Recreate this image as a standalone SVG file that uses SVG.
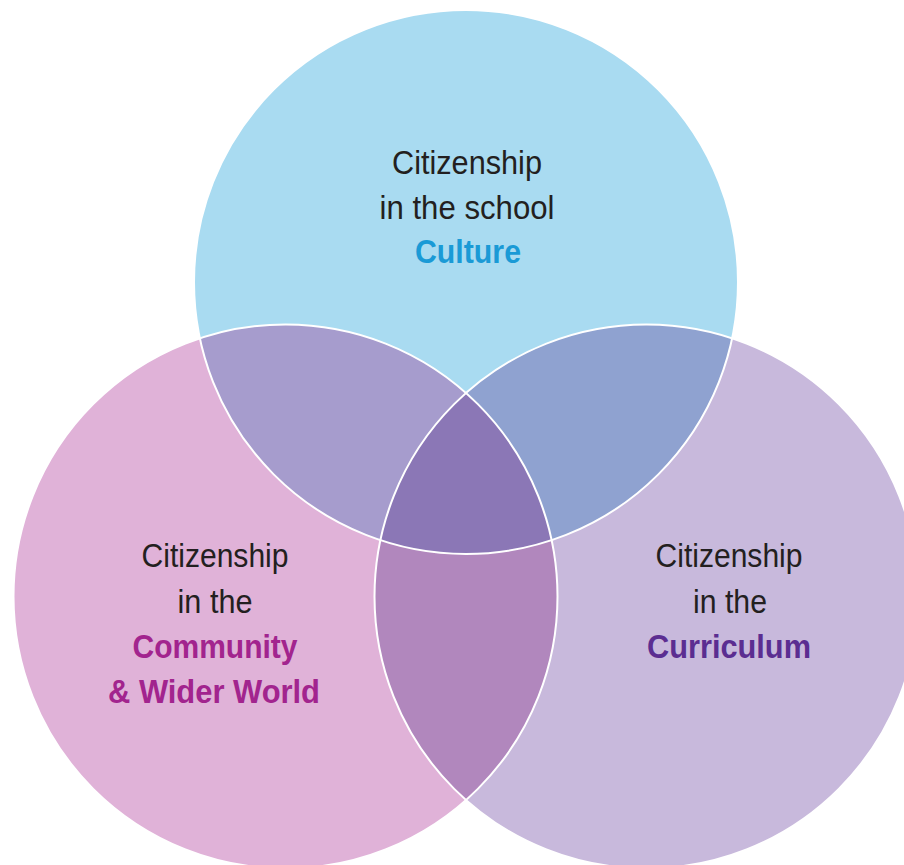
<svg xmlns="http://www.w3.org/2000/svg" width="904" height="865" viewBox="0 0 904 865">
<style>
.t{font-family:"Liberation Sans",Arial,sans-serif;font-size:33px;fill:#231f20;text-anchor:middle}
.b{font-weight:bold}
.ring{fill:none;stroke:#ffffff;stroke-width:2}
</style>
<defs>
<clipPath id="cTop"><circle cx="466" cy="282" r="272"/></clipPath>
<clipPath id="cLeft"><circle cx="285.5" cy="596.5" r="272"/></clipPath>
<clipPath id="cRight"><circle cx="646.5" cy="596.5" r="272"/></clipPath>
</defs>
<rect width="904" height="865" fill="#ffffff"/>
<g id="culture">
<circle cx="466" cy="282" r="272" fill="#a9dbf1"/>
</g>
<g id="community">
<circle cx="285.5" cy="596.5" r="272" fill="#e0b2d8"/>
</g>
<g id="curriculum">
<circle cx="646.5" cy="596.5" r="272" fill="#c8b9dc"/>
</g>
<g id="culture-community">
<circle cx="285.5" cy="596.5" r="272" fill="#a69ccd" clip-path="url(#cTop)"/>
</g>
<g id="culture-curriculum">
<circle cx="646.5" cy="596.5" r="272" fill="#8fa2d0" clip-path="url(#cTop)"/>
</g>
<g id="community-curriculum">
<circle cx="646.5" cy="596.5" r="272" fill="#b187bd" clip-path="url(#cLeft)"/>
</g>
<g id="centre">
<g clip-path="url(#cTop)">
<circle cx="646.5" cy="596.5" r="272" fill="#8b77b6" clip-path="url(#cLeft)"/>
</g>
</g>
<g id="outlines">
<circle class="ring" cx="466" cy="282" r="272"/>
<circle class="ring" cx="285.5" cy="596.5" r="272"/>
<circle class="ring" cx="646.5" cy="596.5" r="272"/>
</g>
<g id="label-culture">
<text class="t" x="467" y="174" textLength="150" lengthAdjust="spacingAndGlyphs">Citizenship</text>
<text class="t" x="467" y="219" textLength="175" lengthAdjust="spacingAndGlyphs">in the school</text>
<text class="t b" x="468" y="263" textLength="106" lengthAdjust="spacingAndGlyphs" style="fill:#1a9ad6">Culture</text>
</g>
<g id="label-community">
<text class="t" x="215" y="567" textLength="147" lengthAdjust="spacingAndGlyphs">Citizenship</text>
<text class="t" x="215" y="613" textLength="75" lengthAdjust="spacingAndGlyphs">in the</text>
<text class="t b" x="215" y="658" textLength="165" lengthAdjust="spacingAndGlyphs" style="fill:#a2248e">Community</text>
<text class="t b" x="214" y="703" textLength="212" lengthAdjust="spacingAndGlyphs" style="fill:#a2248e">&amp; Wider World</text>
</g>
<g id="label-curriculum">
<text class="t" x="729" y="567" textLength="147" lengthAdjust="spacingAndGlyphs">Citizenship</text>
<text class="t" x="730" y="613" textLength="74" lengthAdjust="spacingAndGlyphs">in the</text>
<text class="t b" x="729" y="658" textLength="164" lengthAdjust="spacingAndGlyphs" style="fill:#5b2d91">Curriculum</text>
</g>
</svg>
